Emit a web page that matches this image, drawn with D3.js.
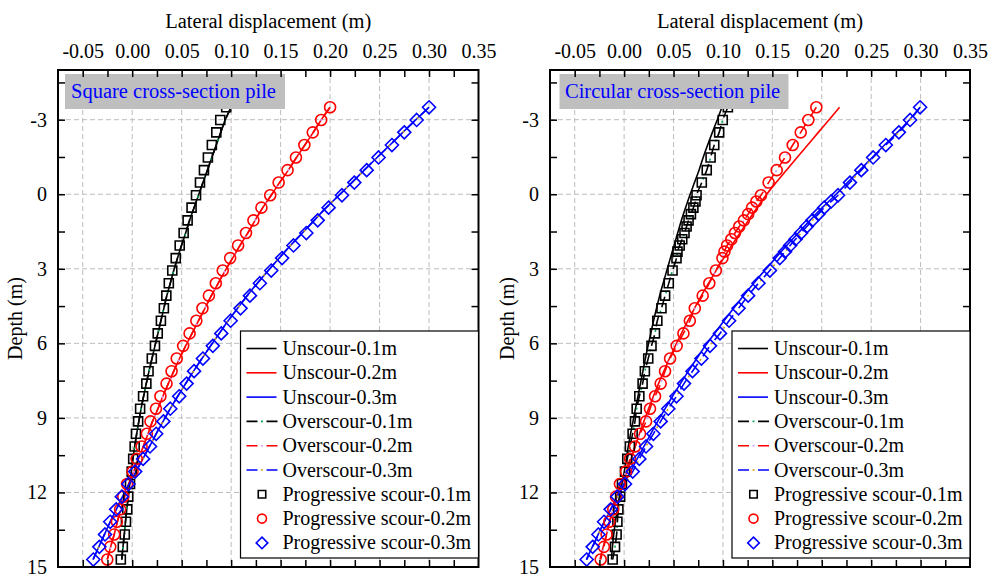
<!DOCTYPE html>
<html><head><meta charset="utf-8">
<script src="https://cdn.jsdelivr.net/npm/d3@7/dist/d3.min.js"></script>
<style>
body{margin:0;background:#fff}
svg{display:block}
text{font-family:"Liberation Serif","Times New Roman",serif}
</style>
</head><body>
<svg id="chart" width="989" height="577"></svg>
<script>
// ---------- tick values / labels ----------
const xMajorTicks = [-0.05,0,0.05,0.10,0.15,0.20,0.25,0.30,0.35];
const xTickLabels = ["-0.05","0.00","0.05","0.10","0.15","0.20","0.25","0.30","0.35"];
const xMinorTicks = [-0.025,0.025,0.075,0.125,0.175,0.225,0.275,0.325];
const yMajorTicks = [-3,0,3,6,9,12,15];
const yTickLabels = ["-3","0","3","6","9","12","15"];
const yMinorTicks = [-4.5,-1.5,1.5,4.5,7.5,10.5,13.5];

// ---------- depths (m) ----------
const depthSq = [-3.5,-2.99,-2.49,-1.98,-1.48,-0.97,-0.47,0.04,0.54,1.05,1.56,2.06,2.57,3.07,3.58,4.08,4.59,5.09,5.6,6.1,6.61,7.12,7.62,8.13,8.63,9.14,9.64,10.15,10.65,11.16,11.66,12.17,12.68,13.18,13.69,14.19,14.7];
const depthCi = [-3.5,-2.99,-2.49,-1.98,-1.48,-0.97,-0.47,0.04,0.29,0.54,0.8,1.05,1.3,1.56,1.81,2.06,2.31,2.57,3.07,3.58,4.08,4.59,5.09,5.6,6.1,6.61,7.12,7.62,8.13,8.63,9.14,9.64,10.15,10.65,11.16,11.66,12.17,12.68,13.18,13.69,14.19,14.7];

// ---------- Square pile ----------
const sqUnsc01 = [0.1,0.094,0.0895,0.085,0.0805,0.076,0.0715,0.067,0.0625,0.058,0.054,0.0498,0.0458,0.042,0.0385,0.035,0.032,0.029,0.026,0.023,0.020,0.017,0.0142,0.0115,0.009,0.0067,0.0045,0.0025,0.0007,-0.001,-0.0025,-0.004,-0.0055,-0.0068,-0.008,-0.0093,-0.0106];
const sqUnsc02 = [0.2,0.191,0.183,0.1745,0.166,0.1578,0.149,0.1405,0.132,0.1242,0.1168,0.109,0.1015,0.094,0.087,0.080,0.0735,0.067,0.0605,0.054,0.0478,0.042,0.0365,0.031,0.026,0.0205,0.016,0.0112,0.0062,0.0015,-0.0035,-0.0078,-0.0115,-0.015,-0.0182,-0.0218,-0.0252];
const sqUnsc03 = [0.3,0.2865,0.2735,0.2605,0.2475,0.2345,0.222,0.209,0.196,0.184,0.172,0.160,0.1485,0.1375,0.1265,0.1162,0.1065,0.097,0.088,0.0792,0.0705,0.062,0.054,0.046,0.0385,0.0312,0.0242,0.0175,0.0108,0.0038,-0.003,-0.0098,-0.016,-0.0222,-0.028,-0.0338,-0.0395];
const sqOver01 = [0.1,0.094,0.0895,0.085,0.0805,0.076,0.0715,0.067,0.0625,0.058,0.054,0.0498,0.0458,0.042,0.0385,0.035,0.032,0.029,0.026,0.023,0.020,0.017,0.0142,0.0115,0.009,0.0067,0.0045,0.0025,0.0007,-0.001,-0.0025,-0.004,-0.0055,-0.0068,-0.008,-0.0093,-0.0106];
const sqOver02 = [0.2,0.191,0.183,0.1745,0.166,0.1578,0.149,0.1405,0.132,0.1242,0.1168,0.109,0.1015,0.094,0.087,0.080,0.0735,0.067,0.0605,0.054,0.0478,0.042,0.0365,0.031,0.026,0.0205,0.016,0.0112,0.0062,0.0015,-0.0035,-0.0078,-0.0115,-0.015,-0.0182,-0.0218,-0.0252];
const sqOver03 = [0.3,0.2865,0.2735,0.2605,0.2475,0.2345,0.222,0.209,0.196,0.184,0.172,0.160,0.1485,0.1375,0.1265,0.1162,0.1065,0.097,0.088,0.0792,0.0705,0.062,0.054,0.046,0.0385,0.0312,0.0242,0.0175,0.0108,0.0038,-0.003,-0.0098,-0.016,-0.0222,-0.028,-0.0338,-0.0395];
const sqProg01 = [0.095,0.089,0.085,0.0805,0.0765,0.0725,0.0685,0.0645,0.060,0.056,0.052,0.048,0.044,0.0405,0.037,0.0345,0.032,0.029,0.0258,0.023,0.0198,0.0165,0.0143,0.011,0.008,0.006,0.0038,0.0025,0.001,-0.0005,-0.0022,-0.004,-0.005,-0.0063,-0.0075,-0.0095,-0.0115];
const sqProg02 = [0.2,0.191,0.1825,0.174,0.1655,0.157,0.148,0.1395,0.1306,0.1225,0.115,0.107,0.099,0.0915,0.0845,0.0775,0.071,0.0648,0.058,0.0515,0.045,0.0398,0.0347,0.0285,0.024,0.0185,0.0148,0.0095,0.0045,0.0004,-0.0052,-0.009,-0.0122,-0.0155,-0.0182,-0.0222,-0.0252];
const sqProg03 = [0.3,0.2875,0.275,0.2625,0.249,0.237,0.2245,0.212,0.1985,0.1875,0.176,0.163,0.1515,0.1405,0.129,0.119,0.1095,0.0995,0.090,0.0815,0.0715,0.0625,0.055,0.0475,0.0385,0.0315,0.0242,0.018,0.011,0.003,-0.0038,-0.0105,-0.0162,-0.0222,-0.0275,-0.0332,-0.0393];

// ---------- Circular pile ----------
const ciUnsc01 = [0.099,0.0942,0.0893,0.0845,0.080,0.0758,0.0712,0.0665,0.0622,0.058,0.0542,0.0505,0.0468,0.0432,0.0395,0.036,0.0328,0.0298,0.027,0.0242,0.0215,0.019,0.0165,0.014,0.0115,0.009,0.0065,0.0042,0.0022,0.0002,-0.0022,-0.0048,-0.0068,-0.0088,-0.0105,-0.0118,-0.0128];
const ciUnsc02 = [0.218,0.2072,0.1965,0.1857,0.175,0.1642,0.1537,0.1435,0.1345,0.1258,0.1172,0.1088,0.1008,0.093,0.0855,0.0782,0.0712,0.0645,0.058,0.0518,0.0458,0.0402,0.0348,0.0296,0.0247,0.02,0.0155,0.0112,0.007,0.003,-0.0038,-0.0075,-0.011,-0.0145,-0.0178,-0.0212,-0.0245];
const ciUnsc03 = [0.2995,0.2885,0.2765,0.2635,0.251,0.2385,0.226,0.2135,0.2005,0.1882,0.1762,0.1645,0.1532,0.1422,0.1312,0.1208,0.1108,0.1012,0.0915,0.0822,0.0735,0.065,0.057,0.049,0.0415,0.034,0.027,0.02,0.0132,0.0065,-0.0002,-0.007,-0.0135,-0.02,-0.0262,-0.0322,-0.0382];
const ciOver01 = [0.105,0.0998,0.0962,0.0912,0.0875,0.0836,0.0786,0.0733,0.0722,0.0701,0.0676,0.0652,0.0632,0.0611,0.0588,0.0562,0.054,0.053,0.049,0.0452,0.0415,0.0378,0.0336,0.0312,0.0277,0.0244,0.021,0.0187,0.0154,0.0127,0.011,0.0086,0.0058,0.0032,0.0009,-0.0022,-0.004,-0.0058,-0.0068,-0.0076,-0.0092,-0.0116];
const ciOver02 = [0.1945,0.1864,0.1787,0.1706,0.1628,0.1544,0.1462,0.1385,0.1338,0.1295,0.1255,0.1212,0.1165,0.1122,0.1085,0.1042,0.1015,0.0995,0.0928,0.0862,0.0795,0.0715,0.0665,0.060,0.0532,0.0465,0.0414,0.037,0.0313,0.0262,0.0222,0.0161,0.011,0.006,0.0019,-0.0042,-0.0082,-0.011,-0.015,-0.0177,-0.0205,-0.0237];
const ciOver03 = [0.2995,0.2894,0.278,0.2648,0.252,0.240,0.2285,0.2165,0.2095,0.2025,0.1965,0.1905,0.1848,0.179,0.1735,0.168,0.1628,0.1575,0.1475,0.136,0.1255,0.1158,0.1062,0.097,0.0869,0.0782,0.0692,0.0606,0.053,0.0447,0.037,0.0296,0.0222,0.0154,0.0087,0.0009,-0.0069,-0.0136,-0.0203,-0.026,-0.0318,-0.0379];
const ciProg01 = [0.105,0.0998,0.0962,0.0912,0.0875,0.0836,0.0786,0.0733,0.0722,0.0701,0.0676,0.0652,0.0632,0.0611,0.0588,0.0562,0.054,0.053,0.049,0.0452,0.0415,0.0378,0.0336,0.0312,0.0277,0.0244,0.021,0.0187,0.0154,0.0127,0.011,0.0086,0.0058,0.0032,0.0009,-0.0022,-0.004,-0.0058,-0.0068,-0.0076,-0.0092,-0.0116];
const ciProg02 = [0.1945,0.1864,0.1787,0.1706,0.1628,0.1544,0.1462,0.1385,0.1338,0.1295,0.1255,0.1212,0.1165,0.1122,0.1085,0.1042,0.1015,0.0995,0.0928,0.0862,0.0795,0.0715,0.0665,0.060,0.0532,0.0465,0.0414,0.037,0.0313,0.0262,0.0222,0.0161,0.011,0.006,0.0019,-0.0042,-0.0082,-0.011,-0.015,-0.0177,-0.0205,-0.0237];
const ciProg03 = [0.2995,0.2894,0.278,0.2648,0.252,0.240,0.2285,0.2165,0.2095,0.2025,0.1965,0.1905,0.1848,0.179,0.1735,0.168,0.1628,0.1575,0.1475,0.136,0.1255,0.1158,0.1062,0.097,0.0869,0.0782,0.0692,0.0606,0.053,0.0447,0.037,0.0296,0.0222,0.0154,0.0087,0.0009,-0.0069,-0.0136,-0.0203,-0.026,-0.0318,-0.0379];

const legendNames = ["Unscour-0.1m","Unscour-0.2m","Unscour-0.3m","Overscour-0.1m","Overscour-0.2m","Overscour-0.3m","Progressive scour-0.1m","Progressive scour-0.2m","Progressive scour-0.3m"];
const seriesColors = ["#000000","#ff0000","#0000ff"];
const dotColors = ["#00a651","#c9a0ff","#d4a017"];
const panelTitles = ["Square cross-section pile","Circular cross-section pile"];

// ---------- drawing ----------
const svg = d3.select("#chart");
const FONT = 20;

const diamondType = {draw(ctx, size){ const r = Math.sqrt(size/2); ctx.moveTo(0,-r); ctx.lineTo(r,0); ctx.lineTo(0,r); ctx.lineTo(-r,0); ctx.closePath(); }};
const squareType = {draw(ctx, size){ const h = Math.sqrt(size)/2; ctx.moveTo(-h,-h); ctx.lineTo(h,-h); ctx.lineTo(h,h); ctx.lineTo(-h,h); ctx.closePath(); }};
const markerDefs = [
  d3.symbol().type(squareType).size(81),
  d3.symbol().type(d3.symbolCircle).size(Math.PI*5.5*5.5),
  d3.symbol().type(diamondType).size(2*6.5*6.5)
];

const panels = [
  {left:58, right:478.5, title:panelTitles[0], box:{x:65,w:220,tx:71},
   unsc:[sqUnsc01,sqUnsc02,sqUnsc03], unscD:depthSq,
   over:[sqOver01,sqOver02,sqOver03], overD:depthSq,
   prog:[sqProg01,sqProg02,sqProg03], progD:depthSq},
  {left:550, right:970, title:panelTitles[1], box:{x:559.5,w:229,tx:565},
   unsc:[ciUnsc01,ciUnsc02,ciUnsc03], unscD:depthSq,
   over:[ciOver01,ciOver02,ciOver03], overD:depthCi,
   prog:[ciProg01,ciProg02,ciProg03], progD:depthCi}
];
const plotTop = 70, plotBottom = 567;

panels.forEach(p => {
  const x = d3.scaleLinear().domain([-0.075, 0.35]).range([p.left, p.right]);
  const y = d3.scaleLinear().domain([-5, 15]).range([plotTop, plotBottom]);
  const g = svg.append("g");

  // grid
  g.append("g").selectAll("line").data(xMajorTicks.filter(v => v < 0.34)).join("line")
    .attr("x1", d => x(d)).attr("x2", d => x(d)).attr("y1", plotTop).attr("y2", plotBottom)
    .attr("stroke", "#bdbdbd").attr("stroke-width", 1).attr("stroke-dasharray", "5,3");
  g.append("g").selectAll("line").data(yMajorTicks.filter(v => v < 14)).join("line")
    .attr("y1", d => y(d)).attr("y2", d => y(d)).attr("x1", p.left).attr("x2", p.right)
    .attr("stroke", "#bdbdbd").attr("stroke-width", 1).attr("stroke-dasharray", "5,3");

  const line = () => d3.line().x(d => x(d[1])).y(d => y(d[0])).curve(d3.curveMonotoneY);
  const pairs = (dep, vals) => dep.map((dd, i) => [dd, vals[i]]);

  // unscour solid lines
  p.unsc.forEach((vals, k) => {
    g.append("path").datum(pairs(p.unscD, vals)).attr("d", line()).attr("fill", "none")
      .attr("stroke", seriesColors[k]).attr("stroke-width", 1.6);
  });
  // overscour dash-dot lines
  p.over.forEach((vals, k) => {
    const dd = pairs(p.overD, vals);
    g.append("path").datum(dd).attr("d", line()).attr("fill", "none")
      .attr("stroke", seriesColors[k]).attr("stroke-width", 1.6).attr("stroke-dasharray", "11,9");
    g.append("path").datum(dd).attr("d", line()).attr("fill", "none")
      .attr("stroke", dotColors[k]).attr("stroke-width", 1.6).attr("stroke-dasharray", "2,18").attr("stroke-dashoffset", -14.5);
  });
  // progressive markers
  p.prog.forEach((vals, k) => {
    g.append("g").selectAll("path").data(pairs(p.progD, vals)).join("path")
      .attr("transform", d => `translate(${x(d[1])},${y(d[0])})`)
      .attr("d", markerDefs[k]()).attr("fill", "none")
      .attr("stroke", seriesColors[k]).attr("stroke-width", 1.6);
  });

  // annotation box
  g.append("rect").attr("x", p.box.x).attr("y", 74).attr("width", p.box.w).attr("height", 35).attr("fill", "#bfbfbf");
  g.append("text").attr("x", p.box.tx).attr("y", 98).attr("fill", "#0000ff").attr("font-size", 20.5).text(p.title);

  // axes: labels
  const ax = g.append("g").attr("transform", `translate(0,${plotTop})`)
    .call(d3.axisTop(x).tickValues(xMajorTicks).tickFormat((d, i) => xTickLabels[i]).tickSize(0).tickPadding(12));
  ax.select(".domain").remove();
  ax.selectAll("text").attr("font-size", FONT).attr("font-family", "Liberation Serif").attr("fill", "#000");
  const ay = g.append("g").attr("transform", `translate(${p.left},0)`)
    .call(d3.axisLeft(y).tickValues(yMajorTicks).tickFormat((d, i) => yTickLabels[i]).tickSize(0).tickPadding(11));
  ay.select(".domain").remove();
  ay.selectAll("text").attr("font-size", FONT).attr("font-family", "Liberation Serif").attr("fill", "#000");

  // ticks (inward)
  const allX = xMajorTicks.concat(xMinorTicks).filter(v => v < 0.349);
  const allY = yMajorTicks.concat(yMinorTicks).filter(v => v < 14.9);
  const tickAxes = [
    [d3.axisTop(x).tickValues(allX).tickSize(-7), `translate(0,${plotTop})`],
    [d3.axisBottom(x).tickValues(allX).tickSize(-7), `translate(0,${plotBottom})`],
    [d3.axisLeft(y).tickValues(allY).tickSize(-7), `translate(${p.left},0)`],
    [d3.axisRight(y).tickValues(allY).tickSize(-7), `translate(${p.right},0)`]
  ];
  tickAxes.forEach(([a, t]) => {
    const gg = g.append("g").attr("transform", t).call(a.tickFormat(""));
    gg.select(".domain").remove();
    gg.selectAll("line").attr("stroke", "#000").attr("stroke-width", 1.5);
  });

  // frame
  g.append("rect").attr("x", p.left).attr("y", plotTop).attr("width", p.right - p.left).attr("height", plotBottom - plotTop)
    .attr("fill", "none").attr("stroke", "#000").attr("stroke-width", 2);

  // axis titles
  g.append("text").attr("x", (p.left + p.right) / 2).attr("y", 28).attr("text-anchor", "middle")
    .attr("font-size", 20.5).text("Lateral displacement (m)");
  g.append("text").attr("transform", `translate(${p.left - 36},${(plotTop + plotBottom) / 2}) rotate(-90)`)
    .attr("text-anchor", "middle").attr("font-size", FONT).text("Depth (m)");

  // legend
  const lx = p.right - 238, ly = 331;
  const lg = g.append("g");
  lg.append("rect").attr("x", lx).attr("y", ly).attr("width", 238).attr("height", 227)
    .attr("fill", "#fff").attr("stroke", "#000").attr("stroke-width", 1.2);
  legendNames.forEach((name, i) => {
    const cy = 348.5 + i * 24.3;
    const k = i % 3;
    if (i < 3) {
      lg.append("line").attr("x1", lx + 6).attr("x2", lx + 36).attr("y1", cy).attr("y2", cy)
        .attr("stroke", seriesColors[k]).attr("stroke-width", 1.6);
    } else if (i < 6) {
      lg.append("line").attr("x1", lx + 6).attr("x2", lx + 37).attr("y1", cy).attr("y2", cy)
        .attr("stroke", seriesColors[k]).attr("stroke-width", 1.6).attr("stroke-dasharray", "11,9");
      lg.append("line").attr("x1", lx + 6).attr("x2", lx + 37).attr("y1", cy).attr("y2", cy)
        .attr("stroke", dotColors[k]).attr("stroke-width", 1.6).attr("stroke-dasharray", "2,18").attr("stroke-dashoffset", -14.5);
    } else {
      const sym = [d3.symbol().type(squareType).size(56), d3.symbol().type(d3.symbolCircle).size(Math.PI*4.5*4.5), d3.symbol().type(diamondType).size(2*5.8*5.8)][k];
      lg.append("path").attr("transform", `translate(${lx + 21.5},${cy})`).attr("d", sym())
        .attr("fill", "none").attr("stroke", seriesColors[k]).attr("stroke-width", 1.6);
    }
    lg.append("text").attr("x", lx + 42).attr("y", cy + 6.5).attr("font-size", FONT).text(name);
  });
});
</script>
</body></html>
